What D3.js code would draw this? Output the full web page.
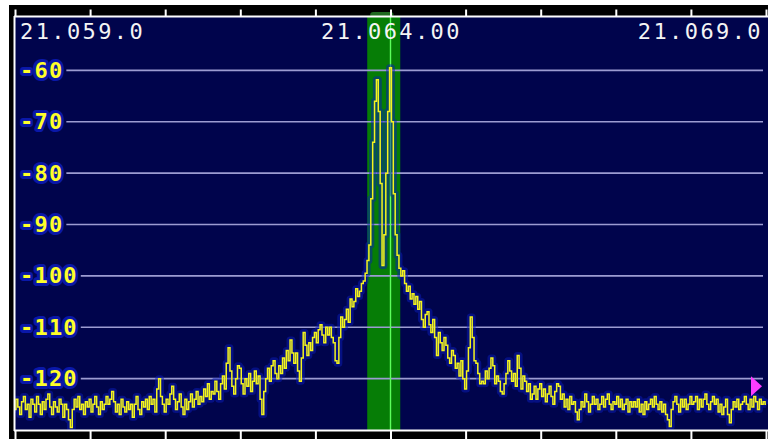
<!DOCTYPE html>
<html>
<head>
<meta charset="utf-8">
<script src="https://cdn.jsdelivr.net/npm/d3@7/dist/d3.min.js"></script>
<style>
  html, body { margin: 0; padding: 0; background: #ffffff; }
  svg { display: block; }
</style>
</head>
<body>
<svg id="chart" width="768" height="439"></svg>
<script>
// Spectrum scope: 21.059 – 21.069 MHz, level in dB
const freqStart = 21.059;      // MHz, first bin
const freqStep = 0.000025;     // MHz per bin (25 Hz)
const levels = [
  -126, -124, -125.5, -127, -124.5, -123.5, -126, -125, -127.5, -124,
  -125, -126.5, -123.5, -125, -127, -124.5, -126, -124, -123, -125.5,
  -127, -124.5, -125.5, -126.5, -124, -125, -127.5, -125, -126, -128,
  -129.5, -126, -124, -125.5, -123.5, -126, -125, -127, -124.5, -125.5,
  -124, -126.5, -125, -123.5, -125.5, -127, -124.5, -126, -125, -123.5,
  -125, -124, -122.5, -124.5, -126.5, -125, -127, -124, -125.5, -126.5,
  -124.5, -126, -125, -127.5, -125, -123.5, -126, -127, -124.5, -125.5,
  -124, -126, -123.5, -125, -124, -126.5, -122, -120, -123.5, -125,
  -126.5, -124, -125, -123, -121.5, -124, -126, -124.5, -123, -125.5,
  -127, -124, -126, -124.5, -123, -125.5, -124, -122.5, -125, -123.5,
  -124.5, -122, -123.5, -121, -124, -122.5, -123, -120.5, -122.5, -124,
  -121, -119.5, -122, -117, -114, -118.5, -121.5, -123, -120, -117.5,
  -118, -121, -123, -120, -121.5, -119, -122.5, -120.5, -118.5, -121,
  -119.5, -124, -127, -122.5, -120, -118, -120.5, -117.5, -116.5, -119,
  -120, -117.5, -119, -116, -118, -114.5, -116.5, -112.5, -115, -117,
  -115, -118.5, -120.5, -116, -111, -113.5, -115.5, -113, -114.5, -112,
  -111, -113, -110.5, -109.5, -111.5, -113, -110, -111.5, -110, -112,
  -113, -116.5, -117, -112, -108, -110, -108.5, -106.5, -109, -104.5,
  -106, -105, -102.5, -104, -103, -101.5, -101, -99.5, -97, -94,
  -85, -74, -66, -61.8, -68, -82, -98, -92, -80, -68,
  -59.5, -70, -84, -92, -96, -98.5, -100, -99, -101.5, -103,
  -102, -104.5, -103.5, -105.5, -104, -106.5, -105, -108.5, -110, -107.5,
  -107, -109.5, -111, -108.5, -112, -115.5, -111, -113, -114.5, -112,
  -113.5, -116, -117, -114.5, -115.5, -118, -117, -119.5, -116.5, -120,
  -122, -118.5, -114, -108, -112, -116.5, -117, -119, -121, -120.5,
  -121, -118.5, -120, -118, -116, -117.5, -121, -119.5, -120.5, -122.5,
  -123, -121, -119, -116.5, -118.5, -120.5, -119, -121.5, -115.5, -118,
  -122, -119.5, -120.5, -122.5, -121, -124, -123, -121.5, -124, -122,
  -121, -123.5, -122, -124.5, -123, -121.5, -123.5, -125, -122.5, -121,
  -121.5, -124, -123, -125.5, -124, -126, -123.5, -125, -124.5, -126.5,
  -128, -126, -124.5, -125.5, -123, -124.5, -126.5, -125, -123.5, -125,
  -124, -126, -125, -123.5, -125.5, -124, -123, -125, -126, -124.5,
  -125, -123.5, -125.5, -124, -126, -125, -124, -126.5, -124.5, -125.5,
  -124.5, -125.5, -124, -126.5, -125, -127, -124.5, -126, -125, -124,
  -125.5, -123.5, -125, -126, -124.5, -126.5, -125, -127, -128, -129.3,
  -126, -124.5, -123.5, -125, -126.5, -124, -125.5, -124, -126, -125,
  -123.5, -125, -124.5, -123.5, -126, -124, -125.5, -124, -123, -125,
  -126, -124.5, -123.5, -125, -124, -126.5, -125, -127, -125.5, -124,
  -127, -128.6, -126, -124.5, -125.5, -124, -126, -125, -124.5, -123.5,
  -125, -126, -124, -125.5, -123.5, -124.5, -126, -124, -125, -124.5,
  -125
];

// Frequency ticks (every kHz) and the three readouts
const tickFreqs = [21.059, 21.060, 21.061, 21.062, 21.063, 21.064,
                   21.065, 21.066, 21.067, 21.068, 21.069];
const freqLabelValues = [21.059, 21.064, 21.069];
const freqLabelTexts = ["21.059.0", "21.064.00", "21.069.0"];

// Level grid
const dbTicks = [-60, -70, -80, -90, -100, -110, -120];

// Receiver passband, tuned frequency and level marker
const passLow = 21.06369;
const passHigh = 21.06413;
const tunedFreq = 21.064;
const markerDb = -121.5;

const spectrum = levels.map((v, i) => ({ f: freqStart + i * freqStep, v }));

const svg = d3.select("#chart");
const W = 768, H = 439;
const plot = { left: 15, right: 766, top: 17, bottom: 430 };

const x = d3.scaleLinear().domain([21.059, 21.069]).range([plot.left, plot.right]);
const y = d3.scaleLinear().domain([-130, -49.6]).range([plot.bottom, plot.top]);

// Outer frame: white margin, black border strips, navy plot field
svg.append("rect").attr("x", 0).attr("y", 0).attr("width", W).attr("height", H).attr("fill", "#ffffff");
svg.append("rect").attr("x", 9).attr("y", 5).attr("width", W - 9).attr("height", H - 5).attr("fill", "#000000");
svg.append("rect").attr("x", plot.left).attr("y", plot.top)
  .attr("width", W - plot.left).attr("height", plot.bottom - plot.top)
  .attr("fill", "#00044c");

svg.append("defs").append("clipPath").attr("id", "plotClip")
  .append("rect").attr("x", plot.left).attr("y", plot.top)
  .attr("width", W - plot.left).attr("height", plot.bottom - plot.top);

// Passband
svg.append("rect")
  .attr("x", x(passLow)).attr("y", plot.top)
  .attr("width", x(passHigh) - x(passLow)).attr("height", plot.bottom - plot.top)
  .attr("fill", "#067d06");
svg.append("rect")
  .attr("x", x(passLow) + 3).attr("y", 12)
  .attr("width", x(tunedFreq) - x(passLow)).attr("height", 5)
  .attr("rx", 3)
  .attr("fill", "#1f6a1f");

// Level grid lines and labels
const yLab = svg.append("g");
dbTicks.forEach(d => {
  const t = yLab.append("text")
    .attr("x", 20).attr("y", y(d))
    .attr("dominant-baseline", "central")
    .attr("font-family", "DejaVu Sans Mono")
    .attr("font-weight", "bold")
    .attr("font-size", 22)
    .attr("letter-spacing", 1.2)
    .attr("fill", "#ffff28")
    .attr("stroke", "#0a18a8")
    .attr("stroke-width", 6)
    .attr("stroke-linejoin", "round")
    .attr("paint-order", "stroke")
    .text(String(d));
  const w = t.node().getComputedTextLength();
  yLab.insert("line", "text")
    .attr("x1", 20 + w + 3).attr("x2", 763)
    .attr("y1", y(d)).attr("y2", y(d))
    .attr("stroke", "#9c9cd2").attr("stroke-width", 1.6);
});

// Tuned frequency line
svg.append("line")
  .attr("x1", x(tunedFreq)).attr("x2", x(tunedFreq))
  .attr("y1", plot.top).attr("y2", plot.bottom)
  .attr("stroke", "#5cff5c").attr("stroke-width", 1.4);

// Spectrum trace with its blue glow
const line = d3.line().x(d => x(d.f)).y(d => y(d.v)).curve(d3.curveStep);
const traceG = svg.append("g").attr("clip-path", "url(#plotClip)");
traceG.append("path").datum(spectrum).attr("d", line)
  .attr("fill", "none").attr("stroke", "#0a1cb8").attr("stroke-width", 7)
  .attr("stroke-opacity", 0.5).attr("stroke-linejoin", "round");
traceG.append("path").datum(spectrum).attr("d", line)
  .attr("fill", "none").attr("stroke", "#f4f41e").attr("stroke-width", 1.5);

// Level marker
const my = y(markerDb);
svg.append("path")
  .attr("d", `M751,${my - 10}L762,${my}L751,${my + 10}Z`)
  .attr("fill", "#ff3cff");

// Frequency axes (tick marks only) on top and bottom borders
const topAxis = svg.append("g").attr("transform", `translate(0,${plot.top - 0.5})`)
  .call(d3.axisTop(x).tickValues(tickFreqs).tickSize(7).tickSizeOuter(0).tickFormat(""));
const botAxis = svg.append("g").attr("transform", `translate(0,${plot.bottom + 0.5})`)
  .call(d3.axisBottom(x).tickValues(tickFreqs).tickSize(9).tickSizeOuter(0).tickFormat(""));
[topAxis, botAxis].forEach(g => {
  g.select(".domain").attr("stroke", "#ffffff").attr("stroke-width", 2)
    .attr("d", `M${plot.left - 1},0H${W}`);
  g.selectAll(".tick line").attr("stroke", "#ffffff").attr("stroke-width", 2);
});
// Left border line
svg.append("line")
  .attr("x1", plot.left - 0.5).attr("x2", plot.left - 0.5)
  .attr("y1", plot.top - 1).attr("y2", plot.bottom + 1)
  .attr("stroke", "#ffffff").attr("stroke-width", 2);

// Frequency readouts
const anchors = ["start", "middle", "end"];
const offsets = [5, 1, -3];
freqLabelValues.forEach((f, i) => {
  svg.append("text")
    .attr("x", x(f) + offsets[i]).attr("y", 39)
    .attr("text-anchor", anchors[i])
    .attr("font-family", "DejaVu Sans Mono")
    .attr("font-size", 22)
    .attr("letter-spacing", 2.4)
    .attr("fill", "#f4f4f4")
    .text(freqLabelTexts[i]);
});
</script>
</body>
</html>
